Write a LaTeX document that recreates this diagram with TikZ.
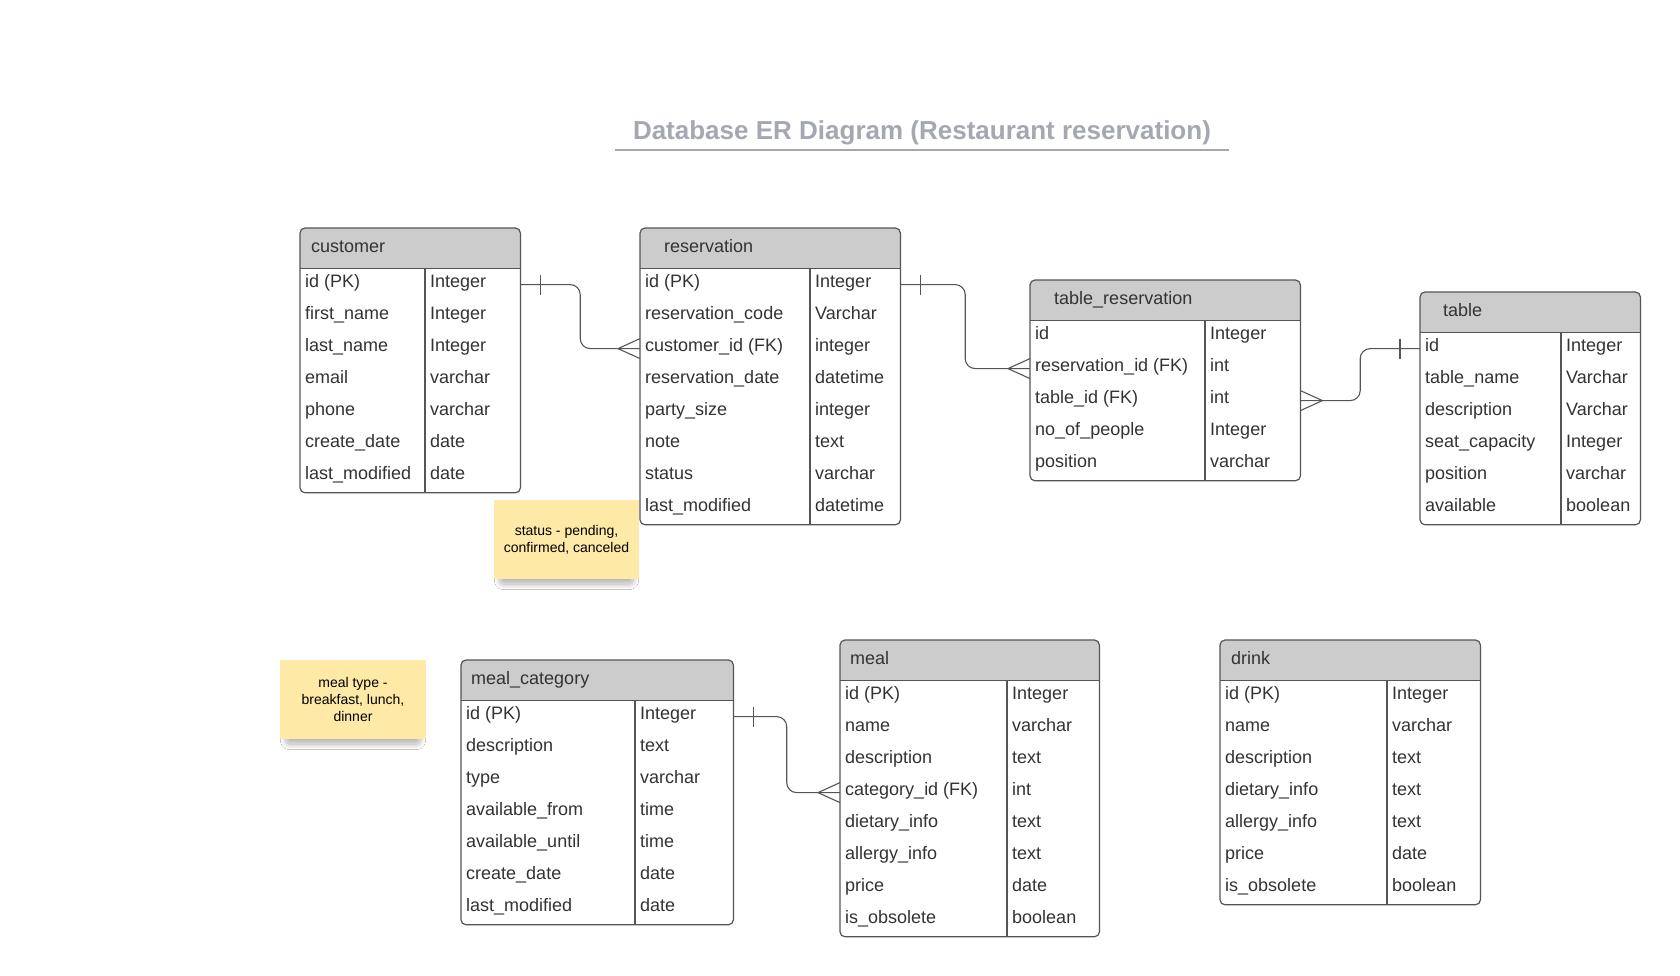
\documentclass[tikz,border=0pt]{standalone}
\usepackage{fontspec}
\setmainfont{Liberation Sans}
\usetikzlibrary{calc,decorations.markings,shadows.blur}

\definecolor{headgray}{HTML}{CCCCCC}
\definecolor{edgegray}{HTML}{555555}
\definecolor{txtgray}{HTML}{333333}
\definecolor{notey}{HTML}{FEE9A7}
\definecolor{titlegray}{HTML}{A4A8B0}

\tikzset{
  erhead/.style={rectangle, fill=headgray, rounded corners=5pt, anchor=north west, inner sep=0pt, minimum height=40pt},
  errow/.style={rectangle, anchor=north west, inner sep=0pt, minimum height=32pt},
  ertxt/.style={anchor=west, inner sep=0pt, text=txtgray, font=\fontsize{18}{22}\selectfont, text height=13pt, text depth=4pt},
  erbox/.style={draw=edgegray, line width=1.2pt, rounded corners=5pt},
  relline/.style={draw=edgegray, line width=1.1pt, rounded corners=10pt, postaction={decorate},
    decoration={markings,
      mark=at position 20pt with {\draw[edgegray, line width=1.1pt] (0,-10pt) -- (0,10pt);},
      mark=at position 1 with {\draw[edgegray, line width=1.1pt] (-22pt,0) -- (0,10pt) (-22pt,0) -- (0,-10pt);}}},
  note/.style={fill=notey, align=center, inner sep=0pt, font=\fontsize{14}{17}\selectfont,
    blur shadow={shadow xshift=0pt, shadow yshift=-9pt, shadow opacity=30, shadow blur radius=6pt,
      shadow blur steps=12, shadow blur extra rounding=4pt, shadow scale=0.92}}
}

% #1 name, #2 x, #3 y, #4 width, #5 divider, #6 title indent, #7 title, #8 rows, #9 fields
\newcommand{\ertable}[9]{%
  \node[erhead, minimum width=#4pt] (#1) at (#2,#3) {};
  \fill[headgray] (#1.west) rectangle (#1.south east);
  \node[ertxt] (#1-title) at ([xshift=#6pt]#1.west) {#7};
  \foreach \fld/\typ [count=\i] in {#9} {
    \node[errow, minimum width=#4pt] (#1-\i) at ($(#1.south west)+(0,{32*(\i-1)})$) {};
    \node[ertxt] (#1-\i-f) at ([xshift=5pt,yshift=1.5pt]#1-\i.west) {\fld};
    \node[ertxt] (#1-\i-t) at ([xshift=#5pt+5pt,yshift=1.5pt]#1-\i.west) {\typ};
  }
  \draw[erbox] (#1.north west) rectangle (#1-#8.south east);
  \draw[erbox] (#1.south west) -- (#1.south east);
  \draw[erbox] ([xshift=#5pt]#1.south west) -- ([xshift=#5pt]#1-#8.south west);
}

\begin{document}
\begin{tikzpicture}[x=1pt, y=-1pt]
  \fill[white] (0,0) rectangle (1680,976);
  \useasboundingbox (0,0) rectangle (1680,976);

  \node[font=\bfseries\fontsize{26}{30}\selectfont, text=titlegray, anchor=base, inner sep=0pt] (title) at (922,140) {Database ER Diagram (Restaurant reservation)};
  \draw[titlegray, line width=1.8pt] ([xshift=-18pt,yshift=-4pt]title.south west) -- ([xshift=18pt,yshift=-4pt]title.south east);

  % tables
  \ertable{cust}{300}{228}{220}{125}{11}{customer}{7}{id (PK)/Integer, first\_name/Integer, last\_name/Integer, email/varchar, phone/varchar, create\_date/date, last\_modified/date}
  \ertable{resv}{640}{228}{260}{170}{24}{reservation}{8}{id (PK)/Integer, reservation\_code/Varchar, customer\_id (FK)/integer, reservation\_date/datetime, party\_size/integer, note/text, status/varchar, last\_modified/datetime}
  \ertable{tres}{1030}{280}{270}{175}{24}{table\_reservation}{5}{id/Integer, reservation\_id (FK)/int, table\_id (FK)/int, no\_of\_people/Integer, position/varchar}
  \ertable{tbl}{1420}{292}{220}{141}{23}{table}{6}{id/Integer, table\_name/Varchar, description/Varchar, seat\_capacity/Integer, position/varchar, available/boolean}
  \ertable{mcat}{461}{660}{272}{174}{10}{meal\_category}{7}{id (PK)/Integer, description/text, type/varchar, available\_from/time, available\_until/time, create\_date/date, last\_modified/date}
  \ertable{meal}{840}{640}{259}{167}{10}{meal}{8}{id (PK)/Integer, name/varchar, description/text, category\_id (FK)/int, dietary\_info/text, allergy\_info/text, price/date, is\_obsolete/boolean}
  \ertable{drink}{1220}{640}{260}{167}{11}{drink}{7}{id (PK)/Integer, name/varchar, description/text, dietary\_info/text, allergy\_info/text, price/date, is\_obsolete/boolean}

  % relations
  \coordinate (cr) at ($(cust-1.east)!.5!(resv-3.west)$);
  \draw[relline] (cust-1.east) -- (cust-1.east -| cr) -- (resv-3.west -| cr) -- (resv-3.west);
  \coordinate (rt) at ($(resv-1.east)!.5!(tres-2.west)$);
  \draw[relline] (resv-1.east) -- (resv-1.east -| rt) -- (tres-2.west -| rt) -- (tres-2.west);
  \coordinate (tt) at ($(tbl-1.west)!.5!(tres-3.east)$);
  \draw[relline] (tbl-1.west) -- (tbl-1.west -| tt) -- (tres-3.east -| tt) -- (tres-3.east);
  \coordinate (cm) at ($(mcat-1.east)!.5!(meal-4.west)$);
  \draw[relline] (mcat-1.east) -- (mcat-1.east -| cm) -- (meal-4.west -| cm) -- (meal-4.west);

  % notes
  \node[note, minimum width=145pt, minimum height=79pt] (statusnote) at (566.5,539.5) {status - pending,\\confirmed, canceled};
  \node[note, minimum width=146pt, minimum height=79pt] (mealnote) at (353,699.5) {meal type -\\breakfast, lunch,\\dinner};
\end{tikzpicture}
\end{document}
